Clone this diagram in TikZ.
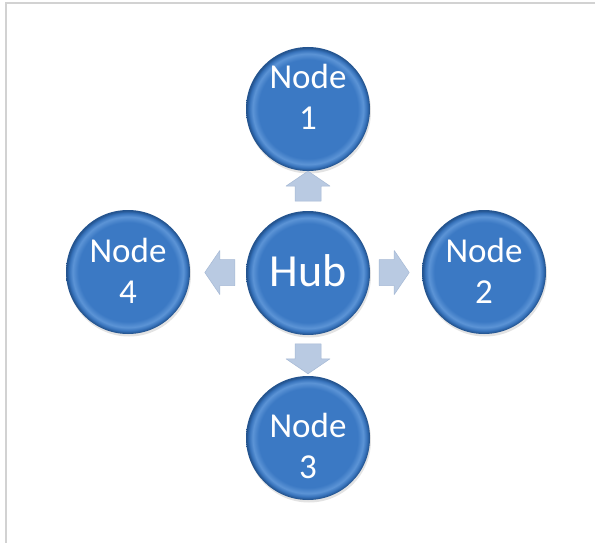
\documentclass[tikz,border=0pt]{standalone}
\usepackage{fontspec}
\setmainfont{Carlito}
\usetikzlibrary{shadows,calc}
\definecolor{bmid}{HTML}{3B79C4}
\definecolor{bmid2}{HTML}{3571BA}
\definecolor{blight}{HTML}{5C94D6}
\definecolor{bdark}{HTML}{24548F}
\definecolor{arrowc}{HTML}{B9CAE2}
\definecolor{arrowe}{HTML}{A6B9D5}
\definecolor{framec}{HTML}{D2D2D2}
\pgfdeclareradialshading{btnshade}{\pgfpoint{0bp}{0bp}}{color(0bp)=(bmid); color(20bp)=(bmid); color(22.3bp)=(blight); color(23.8bp)=(bmid2); color(24.7bp)=(bdark); color(25bp)=(bdark); color(50bp)=(bdark)}
\tikzset{
  btn/.style={circle, minimum size=124pt, inner sep=0pt, shading=btnshade,
    drop shadow={opacity=0.22, shadow xshift=1pt, shadow yshift=-2.5pt}},
  btntext/.style={text=white, font=\fontsize{35}{41}\selectfont, align=center, inner sep=0pt},
  hubtext/.style={btntext, font=\fontsize{46}{50}\selectfont},
  arrowst/.style={fill=arrowc, draw=arrowe, line width=0.5pt, line join=round},
  barrow/.pic={\path[arrowst] (-15,-13) -- (0,-13) -- (0,-22) -- (15,0) -- (0,22) -- (0,13) -- (-15,13) -- cycle;}
}
\begin{document}
\begin{tikzpicture}[x=1pt,y=-1pt]
\useasboundingbox (0,0) rectangle (595,543);
\fill[white] (0,0) rectangle (595,543);
\draw[framec, line width=2pt] (6,543) -- (6,3) -- (595,3);

\node[btn] (hub) at (308,273) {};
\node[btn] (n1) at (308,109) {};
\node[btn] (n2) at (484,272) {};
\node[btn] (n3) at (308,438) {};
\node[btn] (n4) at (128,272) {};

\node[hubtext] (thub) at ($(hub)+(0,-2)$) {Hub};
\node[btntext] (t1) at ($(n1)+(0,-12)$) {Node\\1};
\node[btntext] (t2) at ($(n2)+(0,-1)$) {Node\\2};
\node[btntext] (t3) at ($(n3)+(0,8)$) {Node\\3};
\node[btntext] (t4) at ($(n4)+(0,-1)$) {Node\\4};

\coordinate (a1) at ($(hub)!0.53!(n1)$);
\coordinate (a2) at ($(hub)!0.49!(n2)$);
\coordinate (a3) at ($(hub)!0.52!(n3)$);
\coordinate (a4) at ($(hub)!0.49!(n4)$);
\pic[rotate=90] at (a1) {barrow};
\pic at (a2) {barrow};
\pic[rotate=-90] at (a3) {barrow};
\pic[rotate=180] at (a4) {barrow};
\end{tikzpicture}
\end{document}
